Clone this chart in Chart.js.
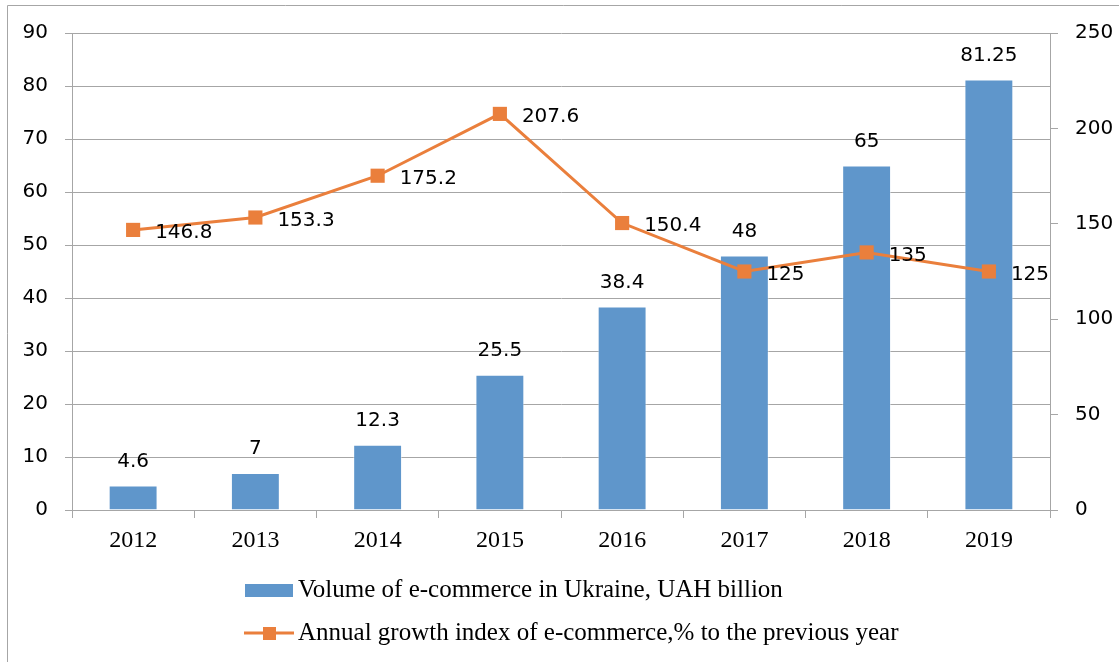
<!DOCTYPE html>
<html>
<head>
<meta charset="utf-8">
<title>E-commerce in Ukraine</title>
<script src="https://cdn.jsdelivr.net/npm/chart.js@4"></script>
<style>
  body { margin: 0; background: #fff; }
  canvas { display: block; }
</style>
</head>
<body>
<canvas id="ecomChart" width="1119" height="662"></canvas>
<script>
// data
const years = ['2012', '2013', '2014', '2015', '2016', '2017', '2018', '2019'];
const volumeValues = [4.6, 7, 12.3, 25.5, 38.4, 48, 65, 81.25];
const growthValues = [146.8, 153.3, 175.2, 207.6, 150.4, 125, 135, 125];
const volumeLabel = 'Volume of e-commerce in Ukraine, UAH billion';
const growthLabel = 'Annual growth index of e-commerce,% to the previous year';

const BLUE = '#5F96CB';
const ORANGE = '#EA7F3C';
const GRID = '#A6A6A6';
const SANS = '"DejaVu Sans", sans-serif';
const SERIF = '"Liberation Serif", "Times New Roman", serif';

// dataset order: 0 = bars, 1 = line
const BAR_IDX = 0, LINE_IDX = 1;

// value labels above bars and to the right of the markers
const valueLabels = {
    id: 'valueLabels',
    afterDatasetsDraw(chart) {
        const ctx = chart.ctx;
        ctx.save();
        ctx.fillStyle = '#000';
        ctx.font = '20px ' + SANS;
        ctx.textBaseline = 'middle';

        chart.getDatasetMeta(BAR_IDX).data.forEach((bar, i) => {
            ctx.textAlign = 'center';
            ctx.fillText(String(volumeValues[i]), bar.x, bar.y - 24);
        });
        chart.getDatasetMeta(LINE_IDX).data.forEach((pt, i) => {
            ctx.textAlign = 'left';
            ctx.fillText(String(growthValues[i]), pt.x + 22, pt.y + 3);
        });
        ctx.restore();
    }
};

// frame + two row legend under the axis
const frameAndLegend = {
    id: 'frameAndLegend',
    afterDraw(chart) {
        const ctx = chart.ctx;
        ctx.save();
        ctx.strokeStyle = GRID;
        ctx.lineWidth = 1;
        ctx.beginPath();
        ctx.moveTo(7.5, chart.height);
        ctx.lineTo(7.5, 5.5);
        ctx.lineTo(chart.width, 5.5);
        ctx.stroke();

        const sx = 245, tx = 298;
        const row1 = 590, row2 = 633;
        ctx.font = '25px ' + SERIF;
        ctx.textBaseline = 'middle';
        ctx.textAlign = 'left';

        ctx.fillStyle = BLUE;
        ctx.fillRect(sx, row1 - 6, 48, 13);
        ctx.fillStyle = '#000';
        ctx.fillText(chart.data.datasets[BAR_IDX].label, tx, row1);

        ctx.strokeStyle = ORANGE;
        ctx.lineWidth = 3;
        ctx.beginPath();
        ctx.moveTo(sx - 1, row2);
        ctx.lineTo(sx + 49, row2);
        ctx.stroke();
        ctx.fillStyle = ORANGE;
        ctx.fillRect(sx + 18, row2 - 6, 13, 13);
        ctx.fillStyle = '#000';
        ctx.fillText(chart.data.datasets[LINE_IDX].label, tx, row2);
        ctx.restore();
    }
};

const ctx = document.getElementById('ecomChart').getContext('2d');
new Chart(ctx, {
    data: {
        labels: years,
        datasets: [
            {
                type: 'bar',
                label: volumeLabel,
                data: volumeValues,
                yAxisID: 'yLeft',
                backgroundColor: BLUE,
                borderColor: 'rgba(255,255,255,0.45)',
                borderWidth: 1,
                barPercentage: 0.4,
                categoryPercentage: 1,
                order: 1
            },
            {
                type: 'line',
                label: growthLabel,
                data: growthValues,
                yAxisID: 'yRight',
                borderColor: ORANGE,
                backgroundColor: ORANGE,
                borderWidth: 3,
                pointStyle: 'rect',
                pointRadius: 10,
                pointHoverRadius: 10,
                pointBorderWidth: 0,
                tension: 0,
                order: 0
            }
        ]
    },
    options: {
        responsive: false,
        animation: false,
        layout: { padding: { top: 33, left: 0, right: 0, bottom: 0 } },
        plugins: {
            legend: { display: false },
            tooltip: { enabled: false }
        },
        scales: {
            x: {
                offset: true,
                grid: {
                    offset: true,
                    drawOnChartArea: false,
                    color: GRID,
                    tickLength: 8
                },
                border: { color: GRID },
                ticks: {
                    color: '#000',
                    font: { family: SERIF, size: 24 },
                    padding: 8,
                    maxRotation: 0
                },
                afterFit(scale) { scale.height = 152; }
            },
            yLeft: {
                position: 'left',
                min: 0,
                max: 90,
                ticks: {
                    stepSize: 10,
                    color: '#000',
                    font: { family: SANS, size: 20 },
                    padding: 17
                },
                grid: { color: GRID, tickLength: 7 },
                border: { color: GRID },
                afterFit(scale) { scale.width = 72; }
            },
            yRight: {
                position: 'right',
                min: 0,
                max: 250,
                ticks: {
                    stepSize: 50,
                    color: '#000',
                    font: { family: SANS, size: 20 },
                    padding: 17
                },
                grid: { drawOnChartArea: false, color: GRID, tickLength: 8 },
                border: { color: GRID },
                afterFit(scale) { scale.width = 69; }
            }
        }
    },
    plugins: [valueLabels, frameAndLegend]
});
</script>
</body>
</html>
